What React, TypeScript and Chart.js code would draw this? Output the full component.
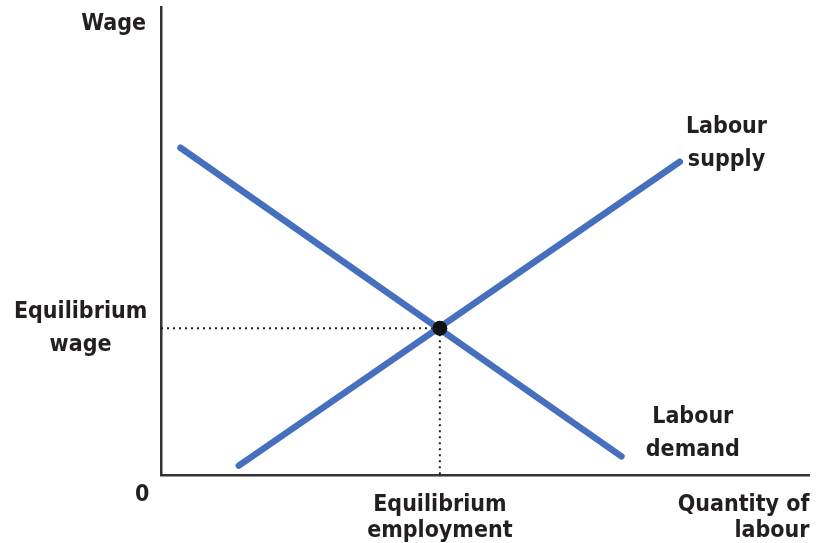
import React, { useEffect, useRef } from "react";
import { Chart, registerables } from "chart.js";

Chart.register(...registerables);

// Data (x: quantity of labour 0-100, y: wage 0-100)
const demandX = [3, 71];
const demandY = [70, 4];
const supplyX = [12, 80];
const supplyY = [2, 67];
const eqX = 43;
const eqY = 31.4;

const BLUE = "#4670BE";
const INK = "#231F20";

type Lbl = { text: string[]; x: number; y: number; align: CanvasTextAlign; dy?: number };
const labels: Lbl[] = [
  { text: ["Labour", "supply"], x: 87.2, y: 70.8, align: "center" },
  { text: ["Labour", "demand"], x: 82, y: 8.8, align: "center" },
  { text: ["Equilibrium", "wage"], x: -12.4, y: 31.4, align: "center" },
  { text: ["Wage"], x: -2.3, y: 96.4, align: "right" },
];
const bottomLabels: Lbl[] = [
  { text: ["0"], x: -2.9, y: 0, align: "center", dy: 20 },
  { text: ["Equilibrium", "employment"], x: eqX, y: 0, align: "center", dy: 30 },
  { text: ["Quantity of", "labour"], x: 100, y: 0, align: "right", dy: 30 },
];

const textPlugin = {
  id: "textLabels",
  afterDraw(chart: any) {
    const ctx = chart.ctx as CanvasRenderingContext2D;
    const xs = chart.scales.x;
    const ys = chart.scales.y;
    ctx.save();
    ctx.fillStyle = INK;
    ctx.font = "bold 23px 'DejaVu Sans Condensed', 'Roboto', sans-serif";
    ctx.textBaseline = "middle";
    const lh = 33;
    for (const l of labels) {
      ctx.textAlign = l.align;
      const px = xs.getPixelForValue(l.x);
      const py = ys.getPixelForValue(l.y);
      l.text.forEach((t, i) => ctx.fillText(t, px, py + i * lh - ((l.text.length - 1) * lh) / 2));
    }
    const base = ys.getPixelForValue(0);
    for (const l of bottomLabels) {
      ctx.textAlign = l.align;
      const px = xs.getPixelForValue(l.x);
      l.text.forEach((t, i) => ctx.fillText(t, px, base + (l.dy || 0) + i * 26));
    }
    ctx.restore();
  },
};

export default function App() {
  const ref = useRef<HTMLCanvasElement | null>(null);
  useEffect(() => {
    if (!ref.current) return;
    const chart = new Chart(ref.current, {
      type: "scatter",
      data: {
        datasets: [
          {
            data: [{ x: eqX, y: eqY }],
            pointRadius: 7.5,
            pointBackgroundColor: "#111",
            pointBorderWidth: 0,
            order: 0,
          },
          {
            data: demandX.map((x, i) => ({ x, y: demandY[i] })),
            showLine: true,
            borderColor: BLUE,
            borderWidth: 6.5,
            borderCapStyle: "round",
            pointRadius: 0,
            order: 1,
          },
          {
            data: supplyX.map((x, i) => ({ x, y: supplyY[i] })),
            showLine: true,
            borderColor: BLUE,
            borderWidth: 6.5,
            borderCapStyle: "round",
            pointRadius: 0,
            order: 1,
          },
          {
            data: [
              { x: 0, y: eqY },
              { x: eqX, y: eqY },
            ],
            showLine: true,
            borderColor: INK,
            borderWidth: 2,
            borderDash: [2, 4],
            pointRadius: 0,
            order: 2,
          },
          {
            data: [
              { x: eqX, y: eqY },
              { x: eqX, y: 0 },
            ],
            showLine: true,
            borderColor: INK,
            borderWidth: 2,
            borderDash: [2, 4],
            pointRadius: 0,
            order: 2,
          },
        ],
      },
      options: {
        animation: false,
        responsive: false,
        maintainAspectRatio: false,
        events: [],
        layout: { padding: { left: 161, right: 4, top: 7, bottom: 68 } },
        plugins: { legend: { display: false }, tooltip: { enabled: false } },
        scales: {
          x: {
            type: "linear",
            min: 0,
            max: 100,
            grid: { display: false, drawTicks: false },
            ticks: { display: false },
            border: { display: true, color: "#333", width: 2.5 },
          },
          y: {
            type: "linear",
            min: 0,
            max: 100,
            grid: { display: false, drawTicks: false },
            ticks: { display: false },
            border: { display: true, color: "#333", width: 2.5 },
          },
        },
      },
      plugins: [textPlugin],
    });
    return () => chart.destroy();
  }, []);
  return (
    <div style={{ position: "fixed", left: 0, top: 0, width: 817, height: 543, background: "#fff" }}>
      <canvas ref={ref} width={817} height={543} style={{ width: 817, height: 543 }} />
    </div>
  );
}
